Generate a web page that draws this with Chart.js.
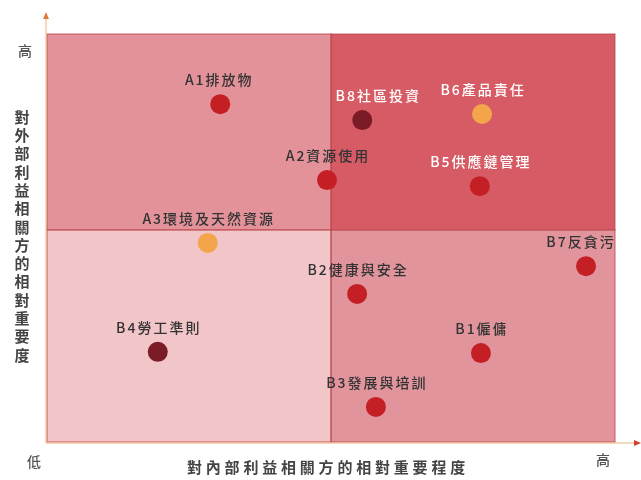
<!DOCTYPE html>
<html>
<head>
<meta charset="utf-8">
<script src="https://cdn.jsdelivr.net/npm/chart.js@4"></script>
<style>
  html, body { margin: 0; padding: 0; background: #fff; }
  #wrap { width: 641px; height: 480px; }
</style>
</head>
<body>
<div id="wrap"><canvas id="matriz"></canvas></div>
<script>
// temas y valores (escala 0-10)
const temas = ["A1排放物", "B8社區投資", "B6產品責任", "A2資源使用", "B5供應鏈管理", "A3環境及天然資源",
               "B7反貪污", "B2健康與安全", "B4勞工準則", "B1僱傭", "B3發展與培訓"];
const interno = [3.05, 5.55, 7.66, 4.93, 7.62, 2.83, 9.49, 5.46, 1.95, 7.64, 5.79];
const externo = [8.28, 7.89, 8.04, 6.42, 6.27, 4.88, 4.31, 3.63, 2.21, 2.18, 0.86];
const tipo = ["rojo", "oscuro", "naranja", "rojo", "rojo", "naranja", "rojo", "rojo", "oscuro", "rojo", "rojo"];
const limiteX = 5.0;
const limiteY = 5.2;
const tituloX = "對內部利益相關方的相對重要程度";
const tituloY = "對外部利益相關方的相對重要度";
const etiquetaAlto = "高";
const etiquetaBajo = "低";

const coloresPunto = { rojo: "#c51f26", oscuro: "#7a1b25", naranja: "#f3a54b" };
// etiquetas en blanco sobre el cuadrante oscuro
const textoBlanco = ["B8社區投資", "B6產品責任", "B5供應鏈管理"];
const desplazaX = { "B8社區投資": 15, "A1排放物": -2, "B7反貪污": -6 };

const FUENTE = '"Noto Sans CJK TC", "Noto Sans CJK SC", sans-serif';

const cuadrantes = {
    id: 'cuadrantes',
    beforeDatasetsDraw(chart) {
        const { ctx, scales: { x, y } } = chart;
        const x0 = x.getPixelForValue(0), x1 = x.getPixelForValue(limiteX), x2 = x.getPixelForValue(10);
        const y0 = y.getPixelForValue(0), y1 = y.getPixelForValue(limiteY), y2 = y.getPixelForValue(10);
        const zonas = [
            [x0, y2, x1, y1, "#e3929a"],
            [x1, y2, x2, y1, "#d75b64"],
            [x0, y1, x1, y0, "#f2c6c9"],
            [x1, y1, x2, y0, "#e1949c"]
        ];
        ctx.save();
        zonas.forEach(z => {
            ctx.fillStyle = z[4];
            ctx.fillRect(z[0], z[1], z[2] - z[0], z[3] - z[1]);
        });
        ctx.strokeStyle = "rgba(185,70,75,0.55)";
        ctx.lineWidth = 1.5;
        zonas.forEach(z => ctx.strokeRect(z[0], z[1], z[2] - z[0], z[3] - z[1]));

        // ejes con flecha
        const ax = x0 - 1, ay = y0 + 1;
        ctx.strokeStyle = "#f1b27a";
        ctx.lineWidth = 1;
        ctx.beginPath();
        ctx.moveTo(ax, ay); ctx.lineTo(ax, 16);
        ctx.moveTo(ax, ay); ctx.lineTo(637, ay);
        ctx.stroke();
        ctx.fillStyle = "#e07a3a";
        ctx.beginPath();
        ctx.moveTo(ax, 12); ctx.lineTo(ax - 3, 19); ctx.lineTo(ax + 3, 19); ctx.closePath();
        ctx.fill();
        ctx.fillStyle = "#d0402e";
        ctx.beginPath();
        ctx.moveTo(641, ay); ctx.lineTo(634, ay - 3); ctx.lineTo(634, ay + 3); ctx.closePath();
        ctx.fill();
        ctx.restore();
    },
    afterDatasetsDraw(chart) {
        const { ctx, chartArea } = chart;
        const meta = chart.getDatasetMeta(0);
        ctx.save();
        ctx.textAlign = "center";
        ctx.textBaseline = "middle";
        ctx.font = "500 14px " + FUENTE;
        ctx.letterSpacing = "2px";
        meta.data.forEach((p, i) => {
            const t = temas[i];
            ctx.fillStyle = textoBlanco.includes(t) ? "#ffffff" : "#333333";
            ctx.fillText(t, p.x + (desplazaX[t] || 0) + 1, p.y - 24);
        });

        // títulos de los ejes
        ctx.fillStyle = "#444";
        ctx.font = "bold 15px " + FUENTE;
        ctx.letterSpacing = "3.8px";
        ctx.fillText(tituloX, (chartArea.left + chartArea.right) / 2 - 3, 467);
        ctx.letterSpacing = "0px";
        [...tituloY].forEach((c, i) => ctx.fillText(c, 22, 117 + i * 18.3));

        ctx.fillStyle = "#555";
        ctx.font = "500 14px " + FUENTE;
        ctx.fillText(etiquetaAlto, 25, 51);
        ctx.fillText(etiquetaBajo, 34, 462);
        ctx.fillText(etiquetaAlto, 603, 460);
        ctx.restore();
    }
};

new Chart(document.getElementById('matriz'), {
    type: 'scatter',
    data: {
        datasets: [{
            data: temas.map((t, i) => ({ x: interno[i], y: externo[i] })),
            backgroundColor: tipo.map(k => coloresPunto[k]),
            borderWidth: 0,
            pointRadius: 10,
            pointHoverRadius: 10
        }]
    },
    options: {
        responsive: true,
        maintainAspectRatio: false,
        animation: false,
        layout: { padding: { left: 47, right: 26, top: 34, bottom: 38 } },
        scales: {
            x: { type: 'linear', min: 0, max: 10, display: false },
            y: { type: 'linear', min: 0, max: 10, display: false }
        },
        plugins: {
            legend: { display: false },
            tooltip: { enabled: false }
        }
    },
    plugins: [cuadrantes]
});
</script>
</body>
</html>
